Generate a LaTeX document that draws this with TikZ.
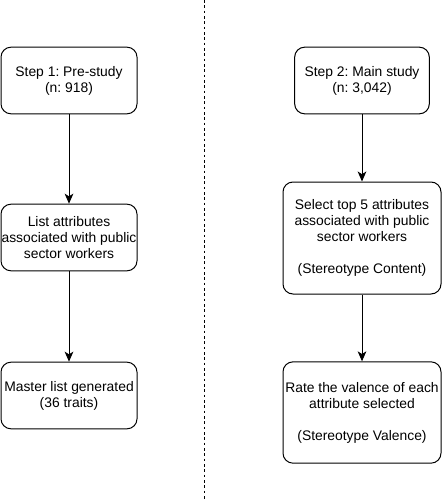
\documentclass[tikz,border=0pt]{standalone}
\usepackage{fontspec}
\setmainfont{Liberation Sans}
\usetikzlibrary{arrows.meta}
\frenchspacing

\tikzset{
  stepbox/.style={draw, rounded corners=7.5pt, line width=0.75pt, align=center,
    inner sep=0pt, font=\fontsize{10.4}{12}\selectfont},
  flow/.style={line width=0.75pt, -{Stealth[length=7.5pt,width=6.5pt,inset=2pt]}}
}

\begin{document}
\begin{tikzpicture}[x=0.75pt,y=0.75pt,yscale=-1,xscale=1]
\useasboundingbox (0,0) rectangle (443,500);

%Divider
\draw [line width=0.75pt, dash pattern=on 2pt off 2pt] (204,0) -- (204,500);

%Left column: pre-study
\node [stepbox, minimum width=102pt, minimum height=50pt] (pre) at (69,80.5) {Step 1: Pre-study\\(n: 918)};
\node [stepbox, minimum width=102pt, minimum height=50pt] (list) at (69,237.5) {List attributes\\associated with public\\sector workers};
\node [stepbox, minimum width=102pt, minimum height=50pt] (master) at (69,395.5) {Master list generated\\(36 traits)};

%Right column: main study
\node [stepbox, minimum width=101pt, minimum height=50pt] (main) at (362,80.5) {Step 2: Main study\\(n: 3,042)};
\node [stepbox, minimum width=118.5pt, minimum height=84pt] (select) at (362,238) {Select top 5 attributes\\associated with public\\sector workers\\[12pt](Stereotype Content)};
\node [stepbox, minimum width=118.5pt, minimum height=76pt] (rate) at (362,412.5) {Rate the valence of each\\attribute selected\\[12pt](Stereotype Valence)};

%Arrows
\draw [flow] (pre) -- (list);
\draw [flow] (list) -- (master);
\draw [flow] (main) -- (select);
\draw [flow] (select) -- (rate);

\end{tikzpicture}
\end{document}
